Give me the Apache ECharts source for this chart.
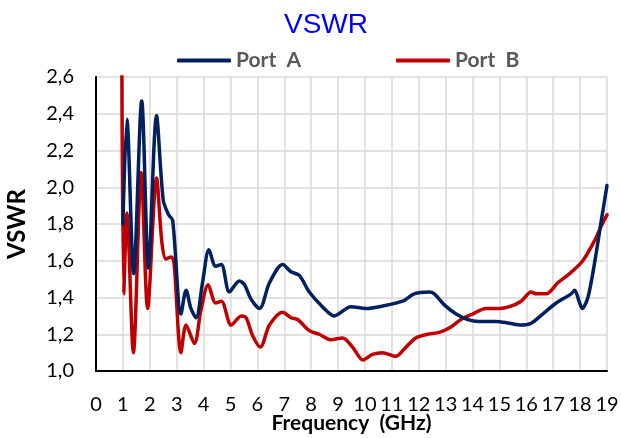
<!DOCTYPE html>
<html>
<head>
<meta charset="utf-8">
<title>VSWR</title>
<script src="https://cdn.jsdelivr.net/npm/echarts@6/dist/echarts.min.js"></script>
<style>
    html, body { margin: 0; padding: 0; background: #fff; }
    #chart { width: 621px; height: 438px; }
</style>
</head>
<body>
<div id="chart"></div>
<script>
// frequency (GHz) / VSWR pairs
const freqA = [1.0, 1.15, 1.4, 1.7, 1.95, 2.25, 2.5, 2.7, 2.85, 3.16, 3.35, 3.53, 3.72, 3.96, 4.2, 4.45, 4.66, 4.96, 5.33, 5.52, 5.77, 6.08, 6.45, 6.94, 7.25, 7.56, 7.93, 8.42, 8.86, 9.48, 10.03, 10.53, 11.4, 11.83, 12.39, 12.58, 12.95, 13.39, 13.82, 14.25, 14.88, 15.37, 15.81, 16.18, 16.61, 17.11, 17.67, 17.8, 17.96, 18.08, 18.29, 18.54, 18.79, 19.0];
const vswrA = [1.80, 2.37, 1.53, 2.47, 1.56, 2.39, 1.93, 1.85, 1.82, 1.31, 1.44, 1.34, 1.29, 1.48, 1.66, 1.57, 1.58, 1.43, 1.49, 1.47, 1.39, 1.34, 1.48, 1.58, 1.54, 1.52, 1.43, 1.35, 1.30, 1.35, 1.34, 1.35, 1.38, 1.42, 1.43, 1.42, 1.36, 1.31, 1.28, 1.27, 1.27, 1.26, 1.25, 1.26, 1.31, 1.37, 1.42, 1.44, 1.38, 1.34, 1.40, 1.59, 1.82, 2.01];

const freqB = [0.96, 1.03, 1.15, 1.39, 1.68, 1.92, 2.25, 2.45, 2.6, 2.8, 2.9, 3.16, 3.35, 3.66, 3.9, 4.17, 4.45, 4.66, 5.03, 5.4, 5.58, 5.83, 6.11, 6.45, 6.94, 7.25, 7.5, 7.93, 8.3, 8.73, 9.17, 9.54, 9.93, 10.28, 10.65, 11.15, 11.46, 11.89, 12.33, 12.76, 13.2, 13.57, 14.0, 14.5, 15.0, 15.37, 15.81, 16.18, 16.37, 16.74, 17.17, 17.61, 18.1, 18.54, 18.79, 19.0];
const vswrB = [2.75, 1.42, 1.86, 1.10, 2.08, 1.34, 2.05, 1.70, 1.61, 1.62, 1.59, 1.10, 1.25, 1.15, 1.33, 1.47, 1.37, 1.38, 1.25, 1.30, 1.29, 1.19, 1.13, 1.25, 1.32, 1.29, 1.28, 1.22, 1.20, 1.17, 1.18, 1.13, 1.06, 1.09, 1.10, 1.08, 1.12, 1.18, 1.20, 1.21, 1.24, 1.28, 1.31, 1.34, 1.34, 1.35, 1.38, 1.43, 1.42, 1.42, 1.48, 1.53, 1.60, 1.71, 1.79, 1.85];

const seriesNames = ['Port  A', 'Port  B'];
const seriesColors = ['#002060', '#C00000'];

const pairs = (xs, ys) => xs.map((x, i) => [x, ys[i]]);

const myChart = echarts.init(document.getElementById('chart'));
const font = 'Lato, "Open Sans", sans-serif';

let option = {
    backgroundColor: '#fff',
    animation: false,
    title: {
        text: 'VSWR',
        left: 321,
        textAlign: 'center',
        top: 6,
        textStyle: {
            color: '#0000FF',
            fontFamily: '"Liberation Sans", Arial, sans-serif',
            fontWeight: 'normal',
            fontSize: 28
        }
    },
    legend: {
        left: 172,
        top: 45,
        itemWidth: 54,
        itemHeight: 4,
        itemGap: 95,
        icon: 'roundRect',
        data: seriesNames,
        textStyle: {
            color: '#595959',
            fontFamily: font,
            fontWeight: 'bold',
            fontSize: 21
        }
    },
    grid: {
        left: 96,
        right: 14,
        top: 77,
        bottom: 67,
        outerBoundsMode: 'none',
        containLabel: false
    },
    xAxis: {
        type: 'value',
        min: 0,
        max: 19,
        interval: 1,
        name: 'Frequency  (GHz)',
        nameLocation: 'middle',
        nameGap: 42,
        nameMoveOverlap: false,
        nameTextStyle: {
            color: '#000',
            fontFamily: font,
            fontWeight: 'bold',
            fontSize: 21
        },
        axisLine: { lineStyle: { color: '#000', width: 2 } },
        axisTick: { show: false },
        axisLabel: {
            color: '#000',
            fontFamily: font,
            fontSize: 20,
            margin: 24
        },
        splitLine: { show: true, lineStyle: { color: '#d9d9d9', width: 1.5 } }
    },
    yAxis: {
        type: 'value',
        min: 1,
        max: 2.6,
        interval: 0.2,
        name: 'VSWR',
        nameLocation: 'middle',
        nameGap: 67,
        nameMoveOverlap: false,
        nameTextStyle: {
            color: '#000',
            fontFamily: font,
            fontWeight: 'bold',
            fontSize: 24
        },
        axisLine: { show: true, lineStyle: { color: '#000', width: 2 } },
        axisTick: { show: false },
        axisLabel: {
            color: '#000',
            fontFamily: font,
            fontSize: 20,
            margin: 22,
            formatter: (v) => v.toFixed(1).replace('.', ',')
        },
        splitLine: { show: true, lineStyle: { color: '#d9d9d9', width: 1.5 } }
    },
    series: []
};

let series = [];
[pairs(freqA, vswrA), pairs(freqB, vswrB)].forEach((d, i) => {
    series.push({
        name: seriesNames[i],
        type: 'line',
        data: d,
        smooth: 0.3,
        showSymbol: false,
        clip: true,
        z: 3 - i,
        itemStyle: { color: seriesColors[i] },
        lineStyle: { color: seriesColors[i], width: 3.5, cap: 'round', join: 'round' }
    });
});
option.series = series;
myChart.setOption(option);
</script>
</body>
</html>
